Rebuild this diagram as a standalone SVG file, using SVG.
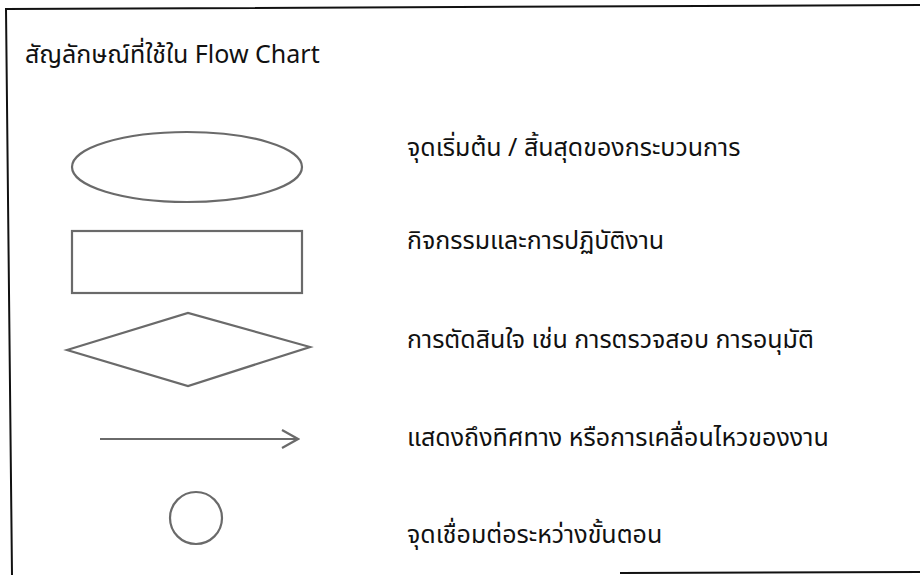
<svg xmlns="http://www.w3.org/2000/svg" width="920" height="575" viewBox="0 0 920 575">
<defs>
<style>
.sym{fill:none;stroke:#6a6a6a;stroke-width:2.2}
.frame{fill:none;stroke:#111;stroke-width:2}
.lbl{font-family:"Noto Sans Thai","Noto Sans","DejaVu Sans",sans-serif;font-size:25px;fill:#111}
</style>
<marker id="open" viewBox="0 0 20 20" refX="18" refY="10" markerWidth="20" markerHeight="20" markerUnits="userSpaceOnUse" orient="auto">
<path d="M2,1 L18,10 L2,19" fill="none" stroke="#6a6a6a" stroke-width="2.2"/>
</marker>
</defs>
<rect width="920" height="575" fill="#fff"/>
<g id="frame">
<path class="frame" d="M920,5 L6,9 L12,575"/>
<path class="frame" d="M620,573 L920,572"/>
</g>
<text class="lbl" x="25" y="63">สัญลักษณ์ที่ใช้ใน Flow Chart</text>
<g id="terminator">
<ellipse class="sym" cx="187" cy="167" rx="115" ry="35"/>
<text class="lbl" x="407" y="156">จุดเริ่มต้น / สิ้นสุดของกระบวนการ</text>
</g>
<g id="process">
<rect class="sym" x="72" y="231" width="230" height="62"/>
<text class="lbl" x="407" y="249">กิจกรรมและการปฏิบัติงาน</text>
</g>
<g id="decision">
<polygon class="sym" points="67,350 188,313 310,347 188,386"/>
<text class="lbl" x="407" y="348">การตัดสินใจ เช่น การตรวจสอบ การอนุมัติ</text>
</g>
<g id="connectors">
<line class="sym" x1="100" y1="439" x2="298" y2="439" marker-end="url(#open)"/>
</g>
<g id="flow-label">
<text class="lbl" x="407" y="446">แสดงถึงทิศทาง หรือการเคลื่อนไหวของงาน</text>
</g>
<g id="connector-point">
<circle class="sym" cx="196" cy="518" r="26"/>
<text class="lbl" x="407" y="543">จุดเชื่อมต่อระหว่างขั้นตอน</text>
</g>
</svg>
